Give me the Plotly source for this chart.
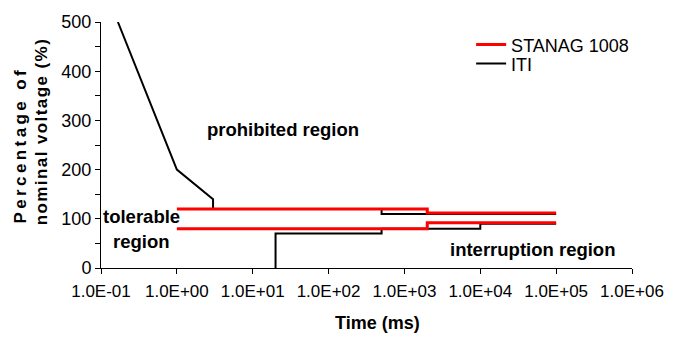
import plotly.graph_objects as go

# ---- data ----
iti_upper_t = [0.167, 1, 3, 3, 500, 500, 1e5]
iti_upper_v = [500, 200, 140, 120, 120, 110, 110]
iti_lower_t = [20, 20, 500, 500, 1e4, 1e4, 1e5]
iti_lower_v = [0, 70, 70, 80, 80, 90, 90]

stanag_upper_t = [1, 2000, 2000, 1e5]
stanag_upper_v = [120, 120, 112, 112]
stanag_lower_t = [1, 2000, 2000, 1e5]
stanag_lower_v = [80, 80, 92, 92]

x_tickvals = [1e-1, 1e0, 1e1, 1e2, 1e3, 1e4, 1e5, 1e6]
x_ticktext = ["1.0E-01", "1.0E+00", "1.0E+01", "1.0E+02", "1.0E+03",
              "1.0E+04", "1.0E+05", "1.0E+06"]
y_tickvals = [0, 100, 200, 300, 400, 500]

FONT = "Liberation Sans, Arial, sans-serif"

fig = go.Figure()
fig.add_trace(go.Scatter(x=iti_upper_t, y=iti_upper_v, mode="lines", name="ITI",
                         line=dict(color="black", width=2), legend="legend2"))
fig.add_trace(go.Scatter(x=iti_lower_t, y=iti_lower_v, mode="lines", name="ITI",
                         line=dict(color="black", width=2), legend="legend2",
                         showlegend=False))
fig.add_trace(go.Scatter(x=stanag_upper_t, y=stanag_upper_v, mode="lines",
                         name="STANAG 1008", line=dict(color="#ff0000", width=3),
                         legend="legend"))
fig.add_trace(go.Scatter(x=stanag_lower_t, y=stanag_lower_v, mode="lines",
                         name="STANAG 1008", line=dict(color="#ff0000", width=3),
                         legend="legend", showlegend=False))

L, R, T, B = 101, 37, 21, 70
W, H = 676, 338
pw = W - L - R
ph = H - T - B

def px(xp):
    return (xp - L) / pw

def py(yp):
    return (H - B - yp) / ph

annots = []
def region(text, x, y):
    annots.append(dict(text=text, xref="paper", yref="paper", x=px(x), y=py(y),
                       showarrow=False, xanchor="center", yanchor="middle",
                       font=dict(family=FONT, size=18.5, color="black", weight="bold")))

region("prohibited region", 285, 129)
region("tolerable", 142, 216)
region("region", 142, 241)
region("interruption region", 538, 249)

# x-axis title (placed as in the reference, right of the plot centre)
annots.append(dict(text="Time (ms)", xref="paper", yref="paper", x=px(381), y=py(323),
                   showarrow=False, xanchor="center", yanchor="middle",
                   font=dict(family=FONT, size=18, color="black", weight="bold")))

sp1 = "\u2009"
sp2 = "\u200a"
annots.append(dict(text=sp1.join("Percentage of"), xref="paper", yref="paper",
                   x=px(19), y=py(146), textangle=-90, showarrow=False,
                   xanchor="center", yanchor="middle",
                   font=dict(family=FONT, size=17, color="black", weight="bold")))
annots.append(dict(text=sp2.join("nominal voltage (%)"), xref="paper", yref="paper",
                   x=px(41), y=py(132), textangle=-90, showarrow=False,
                   xanchor="center", yanchor="middle",
                   font=dict(family=FONT, size=17, color="black", weight="bold")))

leg_common = dict(xanchor="left", yanchor="middle", bgcolor="rgba(0,0,0,0)",
                  borderwidth=0, itemwidth=30,
                  font=dict(family=FONT, size=18, color="black"))

fig.update_layout(
    width=W, height=H,
    margin=dict(l=L, r=R, t=T, b=B, pad=0),
    paper_bgcolor="white", plot_bgcolor="white",
    font=dict(family=FONT, size=17, color="black"),
    showlegend=True,
    legend=dict(x=px(476), y=py(44), **leg_common),
    legend2=dict(x=px(476), y=py(63), **leg_common),
    annotations=annots,
    xaxis=dict(type="log", range=[-1, 6], tickvals=x_tickvals, ticktext=x_ticktext,
               showgrid=False, zeroline=False, showline=True, linecolor="black",
               linewidth=1, ticks="outside", ticklen=5, tickcolor="black",
               ticklabelstandoff=3,
               tickfont=dict(family=FONT, size=17)),
    yaxis=dict(range=[0, 500], tickvals=y_tickvals, showgrid=False, zeroline=False,
               showline=True, linecolor="black", linewidth=1, ticks="outside",
               ticklen=5, tickcolor="black", tickfont=dict(family=FONT, size=18),
               minor=dict(dtick=50, ticks="outside", ticklen=5, tickcolor="black",
                          showgrid=False)),
)

fig.write_html("out.html", config={"displayModeBar": False},
               post_script="document.body.style.margin='0';document.body.style.padding='0';")
